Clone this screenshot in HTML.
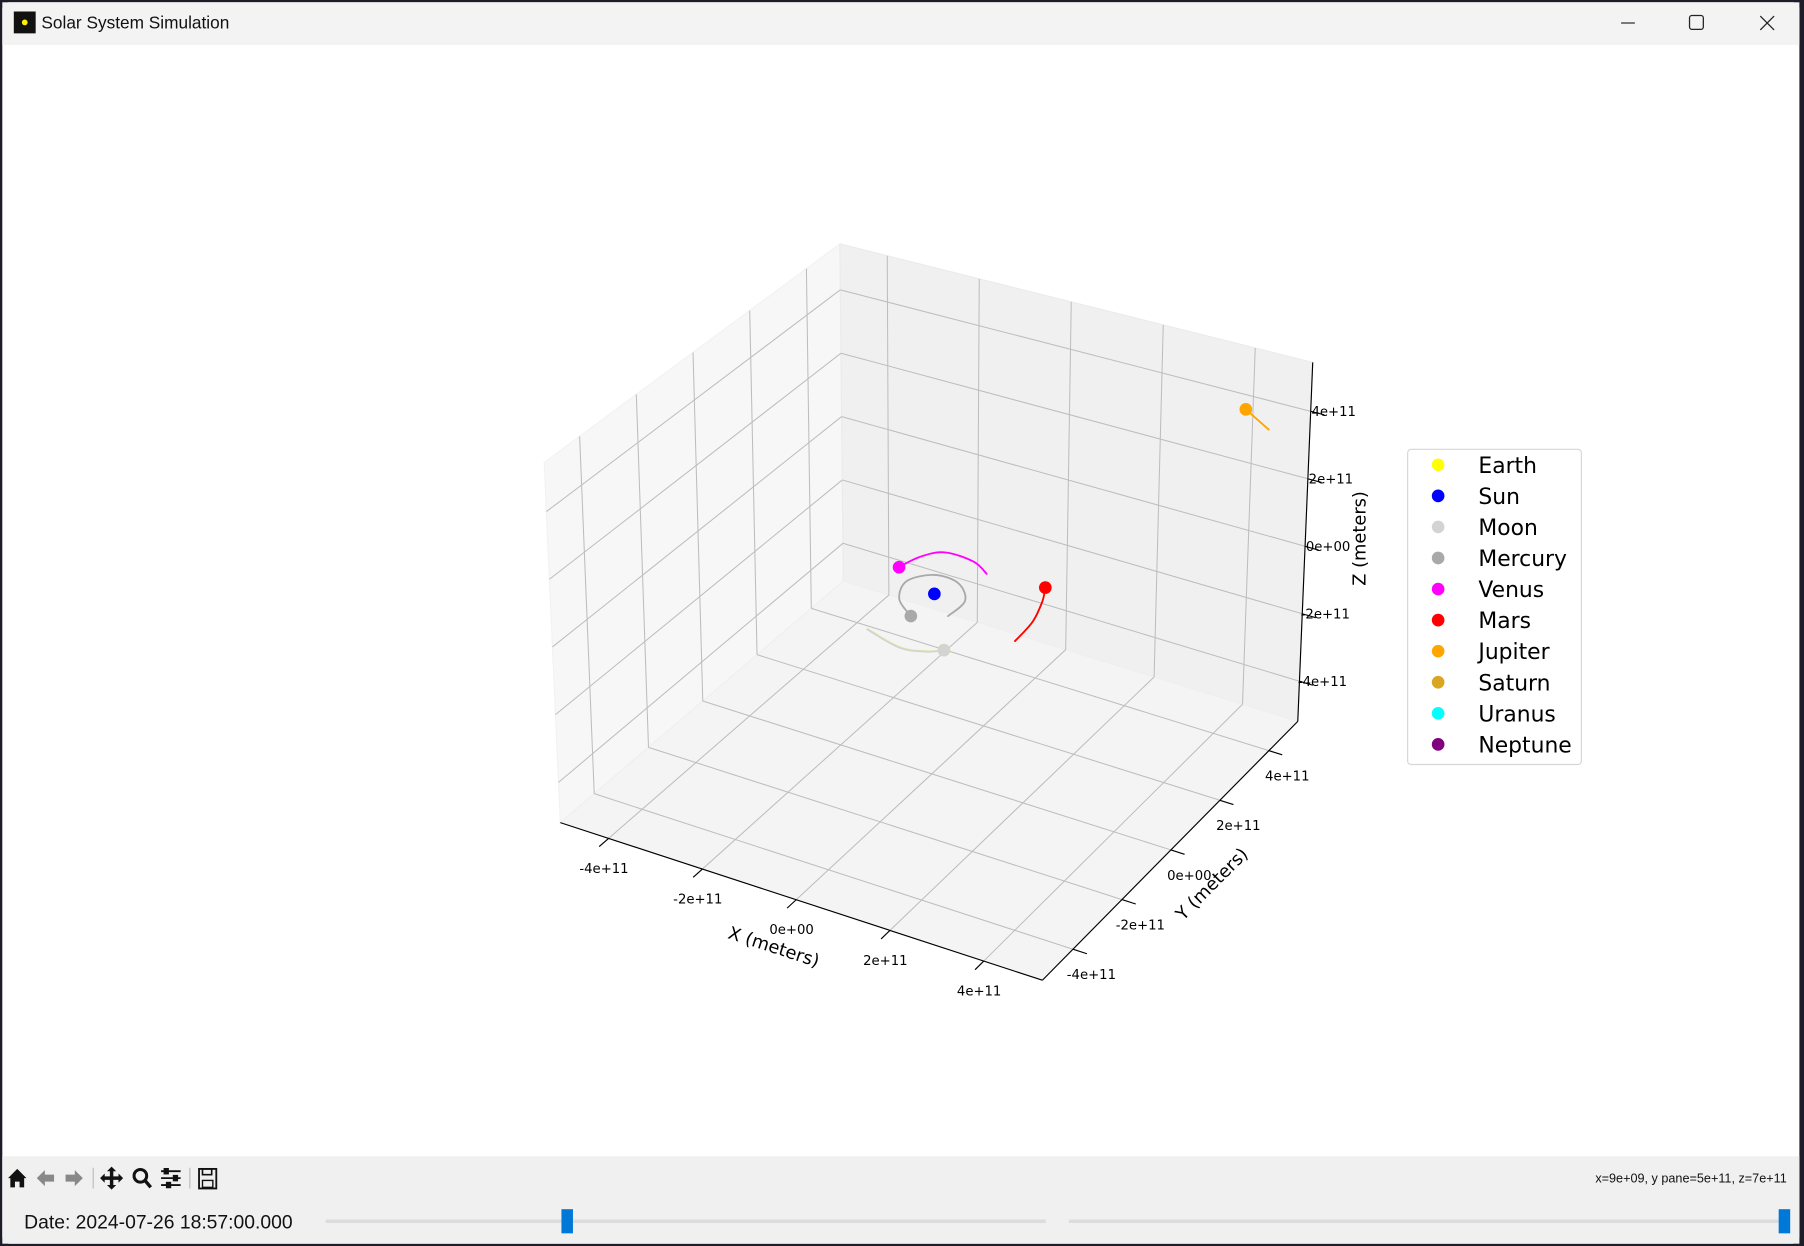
<!DOCTYPE html>
<html><head><meta charset="utf-8"><style>
html,body{margin:0;padding:0;background:#1d1d2a;}
svg{display:block}
</style></head><body>
<svg id="root" xmlns="http://www.w3.org/2000/svg" width="1804" height="1246" viewBox="0 0 1568 1083" preserveAspectRatio="none" font-family="'DejaVu Sans','Liberation Sans',sans-serif">
  <rect x="0" y="0" width="1568" height="1083" fill="#1d1d2a"/>
  <rect x="2" y="2" width="1562" height="1079" rx="6" fill="#ffffff"/>
  <rect x="2" y="2" width="1562" height="37" fill="#f3f3f3"/>
  <rect x="12" y="10" width="19" height="19" fill="#111"/>
  <circle cx="21.5" cy="19.5" r="2.5" fill="#ffee00"/>
  <text x="36" y="25" font-family="'Liberation Sans',sans-serif" font-size="15" fill="#111">Solar System Simulation</text>
  <line x1="1409" y1="20" x2="1421" y2="20" stroke="#222" stroke-width="1"/>
  <rect x="1468.5" y="13.5" width="12" height="12" rx="2" fill="none" stroke="#222" stroke-width="1.1"/>
  <g stroke="#222" stroke-width="1.1"><line x1="1530" y1="14" x2="1542" y2="26"/><line x1="1542" y1="14" x2="1530" y2="26"/></g>

  <g id="plot"></g>

  <g>
    <rect x="1223.5" y="390.5" width="151" height="274" rx="3" fill="#fff" stroke="#d6d6d6"/>
    <g id="legend-items"></g>
  </g>

  <rect x="2" y="1005" width="1562" height="76" fill="#f0f0f0"/>
  <g fill="#111">
    <path d="M7 1024 L15 1016 L23 1024 L21 1024 L21 1032 L17 1032 L17 1027 L13 1027 L13 1032 L9 1032 L9 1024 Z"/>
    <path d="M32 1024 L39 1017 L39 1021 L47 1021 L47 1027 L39 1027 L39 1031 Z" fill="#888"/>
    <path d="M72 1024 L65 1017 L65 1021 L57 1021 L57 1027 L65 1027 L65 1031 Z" fill="#888"/>
    <line x1="81" y1="1015" x2="81" y2="1033" stroke="#bbb"/>
    <path d="M97 1014 L101 1018 L98.5 1018 L98.5 1022.5 L103 1022.5 L103 1020 L107 1024 L103 1028 L103 1025.5 L98.5 1025.5 L98.5 1030 L101 1030 L97 1034 L93 1030 L95.5 1030 L95.5 1025.5 L91 1025.5 L91 1028 L87 1024 L91 1020 L91 1022.5 L95.5 1022.5 L95.5 1018 L93 1018 Z"/>
    <g><circle cx="122" cy="1022" r="5.5" fill="none" stroke="#111" stroke-width="2.6"/><line x1="126" y1="1026" x2="131" y2="1032" stroke="#111" stroke-width="3"/></g>
    <g stroke="#111" stroke-width="1.6"><line x1="140" y1="1018" x2="157" y2="1018"/><line x1="140" y1="1024" x2="157" y2="1024"/><line x1="140" y1="1030" x2="157" y2="1030"/><rect x="143" y="1016" width="3" height="4"/><rect x="151" y="1022" width="3" height="4"/><rect x="145" y="1028" width="3" height="4"/></g>
    <line x1="165" y1="1015" x2="165" y2="1033" stroke="#bbb"/>
    <g><rect x="173" y="1016" width="15" height="17" fill="none" stroke="#111" stroke-width="1.6"/><rect x="176" y="1016" width="8" height="5" fill="none" stroke="#111" stroke-width="1.4"/><rect x="176" y="1026" width="9" height="6" fill="none" stroke="#111" stroke-width="1.2"/></g>
  </g>
  <text x="1553" y="1028" text-anchor="end" font-family="'Liberation Sans',sans-serif" font-size="11" fill="#111">x=9e+09, y pane=5e+11, z=7e+11</text>
  <text x="21" y="1068" font-family="'Liberation Sans',sans-serif" font-size="16.8" fill="#111">Date: 2024-07-26 18:57:00.000</text>
  <g>
    <rect x="283" y="1060" width="626" height="3" fill="#dcdcdc"/>
    <rect x="488" y="1051" width="10" height="21" fill="#0078d7"/>
  </g>
  <g>
    <rect x="929" y="1060" width="624" height="3" fill="#dcdcdc"/>
    <rect x="1546" y="1051" width="10" height="21" fill="#0078d7"/>
  </g>
</svg>
<script>
// ---- chart data (units: 1e11 meters) ----
const xTicks = [-4, -2, 0, 2, 4];
const yTicks = [-4, -2, 0, 2, 4];
const zTicks = [-4, -2, 0, 2, 4];
const xTickLabels = ['-4e+11', '-2e+11', '0e+00', '2e+11', '4e+11'];
const yTickLabels = ['-4e+11', '-2e+11', '0e+00', '2e+11', '4e+11'];
const zTickLabels = ['-4e+11', '-2e+11', '0e+00', '2e+11', '4e+11'];
const xLim = [-5.03, 5.25];
const yLim = [-5.25, 5.18];
const zLim = [-5.19, 5.45];
const bodyNames = ['Earth', 'Sun', 'Moon', 'Mercury', 'Venus', 'Mars', 'Jupiter', 'Saturn', 'Uranus', 'Neptune'];
const bodyColors = ['#ffff00', '#0000ff', '#d3d3d3', '#a9a9a9', '#ff00ff', '#ff0000', '#ffa500', '#daa520', '#00ffff', '#800080'];
const earthTrailX = [-0.34, 0.52, 1.03, 1.28];
const earthTrailY = [-1.74, -2.03, -1.90, -1.71];
const earthTrailZ = [0.13, 0.13, 0.13, 0.13];
const moonTrailX = [-0.34, 0.52, 1.03, 1.28];
const moonTrailY = [-1.76, -2.05, -1.92, -1.71];
const moonTrailZ = [0.13, 0.13, 0.13, 0.13];
const sunTrailX = [0.07];
const sunTrailY = [0.04];
const sunTrailZ = [0.13];
const mercuryTrailX = [0.71, 0.70, 0.25, -0.29, -0.62, -0.40, 0.11];
const mercuryTrailY = [-0.56, 0.10, 0.62, 0.66, 0.20, -0.46, -0.91];
const mercuryTrailZ = [0.13, 0.13, 0.13, 0.13, 0.13, 0.13, 0.13];
const venusTrailX = [0.54, 0.09, -0.56, -0.88, -1.01];
const venusTrailY = [1.19, 1.47, 1.50, 1.10, 0.58];
const venusTrailZ = [0.13, 0.13, 0.13, 0.13, 0.13];
const marsTrailX = [2.26, 2.19, 1.97, 1.76];
const marsTrailY = [-0.74, 0.06, 0.81, 1.29];
const marsTrailZ = [0.13, 0.13, 0.13, 0.13];
const jupiterTrailX = [5.1, 4.32];
const jupiterTrailY = [3.84, 4.33];
const jupiterTrailZ = [4.3, 4.3];

// ---- projection ----
const C = { // screen corners [xi][yi][zi]
  '000': [487, 715], '100': [906, 852], '010': [733, 505], '110': [1128, 627],
  '001': [473, 402], '101': [898, 517], '011': [730, 212], '111': [1141, 315]
};
function proj(x, y, z) {
  const u = (x - xLim[0]) / (xLim[1] - xLim[0]);
  const v = (y - yLim[0]) / (yLim[1] - yLim[0]);
  const w = (z - zLim[0]) / (zLim[1] - zLim[0]);
  let px = 0, py = 0;
  for (const a of [0, 1]) for (const b of [0, 1]) for (const c of [0, 1]) {
    const wt = (a ? u : 1 - u) * (b ? v : 1 - v) * (c ? w : 1 - w);
    const p = C['' + a + b + c];
    px += wt * p[0]; py += wt * p[1];
  }
  return [px, py];
}
const NS = 'http://www.w3.org/2000/svg';
const plot = document.getElementById('plot');
function mk(tag, attrs, parent) {
  const e = document.createElementNS(NS, tag);
  for (const k in attrs) e.setAttribute(k, attrs[k]);
  (parent || plot).appendChild(e);
  return e;
}
function poly(pts) { return pts.map(p => p[0].toFixed(1) + ',' + p[1].toFixed(1)).join(' '); }
function smooth(pts) {
  let d = 'M' + pts[0][0].toFixed(1) + ' ' + pts[0][1].toFixed(1);
  for (let i = 0; i < pts.length - 1; i++) {
    const p0 = pts[Math.max(0, i - 1)], p1 = pts[i], p2 = pts[i + 1], p3 = pts[Math.min(pts.length - 1, i + 2)];
    const c1 = [p1[0] + (p2[0] - p0[0]) / 6, p1[1] + (p2[1] - p0[1]) / 6];
    const c2 = [p2[0] - (p3[0] - p1[0]) / 6, p2[1] - (p3[1] - p1[1]) / 6];
    d += ' C' + c1.map(v => v.toFixed(1)).join(' ') + ' ' + c2.map(v => v.toFixed(1)).join(' ') + ' ' + p2[0].toFixed(1) + ' ' + p2[1].toFixed(1);
  }
  return d;
}

// panes
const [x0, x1] = xLim, [y0, y1] = yLim, [z0, z1] = zLim;
let e;
e = mk('polygon', { points: poly([proj(x0, y0, z0), proj(x0, y1, z0), proj(x0, y1, z1), proj(x0, y0, z1)]), fill: '#f7f7f7', stroke: '#f2f2f2' });


e = mk('polygon', { points: poly([proj(x0, y1, z0), proj(x1, y1, z0), proj(x1, y1, z1), proj(x0, y1, z1)]), fill: '#f0f0f0', stroke: '#ebebeb' });


e = mk('polygon', { points: poly([proj(x0, y0, z0), proj(x1, y0, z0), proj(x1, y1, z0), proj(x0, y1, z0)]), fill: '#f4f4f4', stroke: '#efefef' });



// gridlines
function gl(a, b, name) {
  const p = proj(...a), q = proj(...b);
  const l = mk('line', { x1: p[0], y1: p[1], x2: q[0], y2: q[1], stroke: '#bdbdbd', 'stroke-width': 0.9 });
  
  
}
xTicks.forEach(t => { gl([t, y0, z0], [t, y1, z0], 'x-gridline'); gl([t, y1, z0], [t, y1, z1], 'x-gridline'); });
yTicks.forEach(t => { gl([x0, t, z0], [x1, t, z0], 'y-gridline'); gl([x0, t, z0], [x0, t, z1], 'y-gridline'); });
zTicks.forEach(t => { gl([x0, y0, t], [x0, y1, t], 'z-gridline'); gl([x0, y1, t], [x1, y1, t], 'z-gridline'); });

// trails & bodies
const trails = [
  ['earth', earthTrailX, earthTrailY, earthTrailZ, 0, '#f0f0a0'],
  ['moon', moonTrailX, moonTrailY, moonTrailZ, 2, '#d3d3d3'],
  ['mercury', mercuryTrailX, mercuryTrailY, mercuryTrailZ, 3, '#a9a9a9'],
  ['venus', venusTrailX, venusTrailY, venusTrailZ, 4, '#ff00ff'],
  ['mars', marsTrailX, marsTrailY, marsTrailZ, 5, '#ff0000'],
  ['jupiter', jupiterTrailX, jupiterTrailY, jupiterTrailZ, 6, '#ffa500'],
  ['sun', sunTrailX, sunTrailY, sunTrailZ, 1, '#0000ff']
];
trails.forEach(t => {
  const pts = t[1].map((xv, i) => proj(xv, t[2][i], t[3][i]));
  if (pts.length > 1) {
    const pl = mk('path', { d: smooth(pts), fill: 'none', stroke: t[5], 'stroke-width': 1.6, 'stroke-linecap': 'round' });
    
    
  }
});
trails.forEach(t => {
  const n = t[1].length - 1;
  const p = proj(t[1][n], t[2][n], t[3][n]);
  const c = mk('circle', { cx: p[0], cy: p[1], r: 5.5, fill: bodyColors[t[4]] });
  
  
});

// axis lines
function axl(a, b, name) {
  const p = proj(...a), q = proj(...b);
  const l = mk('line', { x1: p[0], y1: p[1], x2: q[0], y2: q[1], stroke: '#000', 'stroke-width': 1 });
  
  
}
axl([x0, y0, z0], [x1, y0, z0], 'x-axis-line');
axl([x1, y0, z0], [x1, y1, z0], 'y-axis-line');
axl([x1, y1, z0], [x1, y1, z1], 'z-axis-line');

function tick(a, b, label, off, name) {
  const p = proj(...a), q = proj(...b);
  const l = mk('line', { x1: p[0], y1: p[1], x2: q[0], y2: q[1], stroke: '#000', 'stroke-width': 1 });
  
  
  const tx = mk('text', { x: p[0] + off[0], y: p[1] + off[1], 'text-anchor': 'middle', 'font-size': 11.5, fill: '#000' });
  tx.textContent = label;
  
  
}
xTicks.forEach((t, i) => tick([t, y0, z0], [t, y0 - 0.35, z0], xTickLabels[i], [-4, 30], 'x'));
yTicks.forEach((t, i) => tick([x1, t, z0], [x1 + 0.3, t, z0], yTickLabels[i], [16, 26], 'y'));
zTicks.forEach((t, i) => tick([x1, y1, t], [x1 + 0.3, y1, t], zTickLabels[i], [20, 4], 'z'));

function axTitle(txt, x, y, rot, name) {
  const t = mk('text', { x: x, y: y, 'text-anchor': 'middle', 'font-size': 15.5, fill: '#000', transform: `rotate(${rot} ${x} ${y})` });
  t.textContent = txt;
  
  
}
axTitle('X (meters)', 671, 828, 18, 'x-axis-title');
axTitle('Y (meters)', 1057, 772, -45, 'y-axis-title');
axTitle('Z (meters)', 1187, 468, -90, 'z-axis-title');

// legend
const lg = document.getElementById('legend-items');
bodyNames.forEach((n, i) => {
  const y = 404 + i * 27;
  const c = mk('circle', { cx: 1250, cy: y, r: 5.5, fill: bodyColors[i] }, lg);
  
  
  const t = mk('text', { x: 1285, y: y + 7, 'font-size': 19, fill: '#000' }, lg);
  t.textContent = n;
  
  
});
</script>
</body></html>
